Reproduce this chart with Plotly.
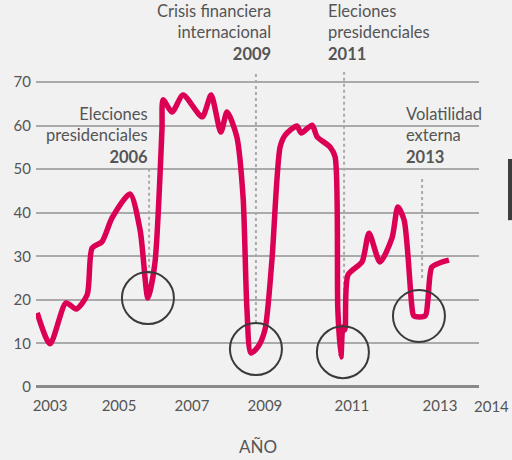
import plotly.graph_objects as go

# timeline position (decimal, as drawn) and value
t = [2002.67, 2003.0, 2003.41, 2003.67, 2003.95, 2004.08, 2004.33, 2004.59, 2005.05,
     2005.31, 2005.51, 2005.69, 2005.87, 2005.90, 2006.13, 2006.41, 2006.90, 2007.13,
     2007.38, 2007.54, 2007.79, 2007.95, 2008.05, 2008.15, 2008.33, 2008.51, 2008.69,
     2008.90, 2009.03, 2009.33, 2009.44, 2009.72, 2009.85, 2010.18, 2010.31, 2010.38,
     2010.46, 2010.51, 2010.56, 2010.64, 2011.0, 2011.18, 2011.46, 2011.77, 2011.92,
     2012.08, 2012.28, 2012.33, 2012.62, 2012.69, 2012.79, 2013.0, 2013.23]
valor = [17.0, 9.9, 19.3, 17.9, 21.1, 31.9, 33.3, 38.8, 44.3,
         36.0, 20.4, 28.5, 59.0, 65.9, 63.1, 67.0, 62.0, 67.0,
         58.5, 63.1, 57.4, 43.6, 17.7, 7.8, 9.2, 13.1, 29.1,
         55.1, 57.8, 59.9, 58.3, 60.1, 57.4, 55.1, 52.8, 17.7,
         6.9, 13.8, 13.1, 25.7, 28.7, 35.3, 28.7, 34.2, 41.3,
         38.3, 18.4, 16.3, 16.3, 20.0, 27.5, 28.5, 29.1]

tick_pos = [2003.0, 2004.77, 2006.64, 2008.51, 2010.74, 2013.0]
tick_txt = ["2003", "2005", "2007", "2009", "2011", "2013"]

# events: marker position, circle centre, dotted line span, label (label y in paper units)
eventos = [
    dict(x=2005.54, cx=2005.51, cy=20.4, y0=26, y1=50,
         txt="Eleciones<br>presidenciales<br><b>2006</b>", tx=2005.56, ty=0.776, side="right"),
    dict(x=2008.28, cx=2008.28, cy=8.7, y0=14.7, y1=72.3,
         txt="Crisis financiera<br>internacional<br><b>2009</b>", tx=2008.72, ty=1.0806, side="right"),
    dict(x=2010.54, cx=2010.51, cy=8.0, y0=13.8, y1=72.3,
         txt="Eleciones<br>presidenciales<br><b>2011</b>", tx=2010.08, ty=1.0806, side="left"),
    dict(x=2012.54, cx=2012.46, cy=16.3, y0=25, y1=48,
         txt="Volatilidad<br>externa<br><b>2013</b>", tx=2012.08, ty=0.776, side="left"),
]

FONT = "Lato, 'Open Sans', sans-serif"
TXT = "#555555"

fig = go.Figure()
fig.add_trace(go.Scatter(
    x=t, y=valor, mode="lines",
    line=dict(color="#DC0055", width=5.5, shape="spline", smoothing=0.7),
    hoverinfo="skip", showlegend=False,
))

shapes = []
annotations = []
for ev in eventos:
    shapes.append(dict(type="line", xref="x", yref="y", x0=ev["x"], x1=ev["x"],
                       y0=ev["y0"], y1=ev["y1"], layer="below",
                       line=dict(color="#aaaaaa", width=2, dash="dot")))
    shapes.append(dict(type="circle", xref="x", yref="y", xsizemode="pixel", ysizemode="pixel",
                       xanchor=ev["cx"], yanchor=ev["cy"], x0=-26, x1=26, y0=-26, y1=26,
                       line=dict(color="#3a3a3a", width=2)))
    annotations.append(dict(x=ev["tx"], y=ev["ty"], xref="x", yref="paper", text=ev["txt"],
                            showarrow=False, xanchor=ev["side"], yanchor="middle",
                            align=ev["side"], font=dict(family=FONT, size=16.5, color=TXT)))

# decorative bar on right edge
shapes.append(dict(type="rect", xref="paper", yref="paper", x0=1.0655, x1=1.08,
                   y0=0.522, y1=0.7045, fillcolor="#3d3d3d", line=dict(width=0)))

# last year label sits past the axis end
annotations.append(dict(x=1.0293, y=-0.033, xref="paper", yref="paper", text="2014",
                        showarrow=False, xanchor="center", yanchor="middle",
                        font=dict(family=FONT, size=15, color=TXT)))
annotations.append(dict(x=0.5, y=-0.155, xref="paper", yref="paper", text="AÑO",
                        showarrow=False, xanchor="center", yanchor="middle",
                        font=dict(family=FONT, size=17, color=TXT)))

fig.update_layout(
    width=512, height=460,
    margin=dict(l=36, r=33, t=60, b=65),
    paper_bgcolor="#f1f1f1", plot_bgcolor="#f1f1f1",
    font=dict(family=FONT, size=15, color=TXT),
    shapes=shapes, annotations=annotations,
    xaxis=dict(range=[2002.64, 2014.0], tickvals=tick_pos, ticktext=tick_txt,
               showgrid=False, zeroline=False, showline=False, ticks="",
               automargin=False),
    yaxis=dict(range=[-1.84, 75.05], tickvals=[0, 10, 20, 30, 40, 50, 60, 70],
               showgrid=True, gridcolor="#aaaaaa", gridwidth=1.5,
               zeroline=True, zerolinecolor="#8a8a8a", zerolinewidth=2.5,
               showline=False, ticks="", ticklabelstandoff=4, automargin=False),
)

fig.write_html("out.html", config={"displayModeBar": False},
               post_script="document.body.style.margin='0';")
